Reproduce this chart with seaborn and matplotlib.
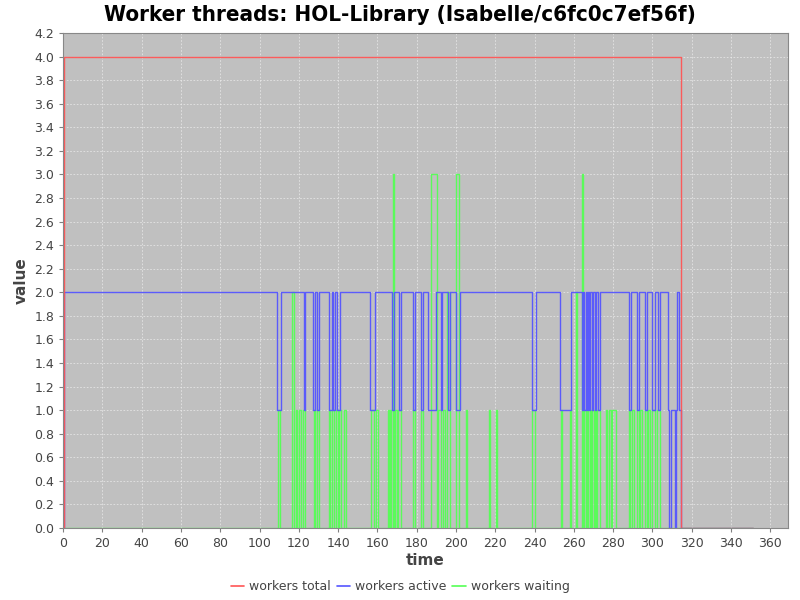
import numpy as np
import pandas as pd
import matplotlib
matplotlib.use("Agg")
import matplotlib.pyplot as plt
import seaborn as sns
from matplotlib.lines import Line2D

# ---- data ----
total_t = [0.0, 0.3, 314.3, 351.3]
total_v = [0, 4, 0, 0]

active_t = [0.0, 0.4, 109.1, 111.0, 122.4, 123.2, 127.1, 128.1, 129.2, 130.2,
            135.1, 136.8, 137.6, 138.3, 139.3, 141.0, 156.3, 158.8,
            167.2, 168.4, 171.0, 172.0, 178.0, 178.9, 182.1, 183.3,
            185.5, 190.0, 192.1, 192.8, 195.7, 197.0, 199.9, 201.8,
            238.6, 240.7, 253.0, 258.5,
            264.1, 264.8, 265.3, 266.0, 266.5, 267.3, 267.8, 268.3,
            269.2, 269.8, 270.7, 271.4, 272.3, 273.1,
            287.8, 288.9, 292.1, 293.3, 296.0, 297.2, 300.0, 301.1,
            302.8, 304.0, 307.9, 308.3, 309.6, 311.3, 311.8, 312.6,
            313.3, 314.3, 351.3]
active_v = [0, 2, 1, 2, 1, 2, 1, 2, 1, 2,
            1, 2, 1, 2, 1, 2, 1, 2,
            1, 2, 1, 2, 1, 2, 1, 2,
            1, 2, 1, 2, 1, 2, 1, 2,
            1, 2, 1, 2,
            1, 2, 1, 2, 1, 2, 1, 2,
            1, 2, 1, 2, 1, 2,
            1, 2, 1, 2, 1, 2, 1, 2,
            1, 2, 1, 0, 1, 0, 1, 2,
            1, 0, 0]

wait_start = [109.3, 116.6, 118.3, 120.3, 121.9, 127.5, 129.2, 135.1, 137.1, 139.0,
              140.5, 143.1, 156.8, 159.4, 165.3, 166.5, 167.7, 169.0, 170.2, 178.1,
              182.3, 187.0, 190.6, 193.3, 195.5, 199.9, 205.0, 216.6, 220.5, 238.8,
              253.4, 258.1, 261.2, 264.1, 265.3, 266.6, 268.0, 269.4, 270.7, 272.0,
              276.5, 277.7, 279.4, 287.8, 289.5, 292.1, 293.8, 296.0, 297.7, 300.0,
              302.3]
wait_end = [110.5, 117.3, 119.0, 121.0, 123.0, 128.3, 130.0, 135.9, 138.1, 140.0,
            141.4, 144.1, 158.0, 160.5, 166.0, 167.0, 168.2, 169.9, 171.9, 178.9,
            183.4, 190.1, 192.3, 194.5, 197.0, 201.3, 205.5, 217.4, 220.8, 240.3,
            253.9, 258.7, 261.7, 264.8, 266.0, 267.2, 268.7, 270.0, 271.4, 273.1,
            277.0, 278.9, 281.6, 288.7, 290.4, 293.3, 294.6, 297.2, 298.5, 301.1,
            304.0]
wait_level = [1, 2, 1, 1, 1, 1, 1, 1, 1, 1,
              1, 1, 1, 1, 1, 1, 3, 1, 1, 1,
              1, 3, 1, 1, 2, 3, 1, 1, 1, 1,
              1, 1, 2, 3, 1, 1, 1, 1, 1, 1,
              1, 1, 1, 1, 1, 1, 1, 1, 1, 1,
              1]

series_names = ["workers total", "workers active", "workers waiting"]
series_colors = ["#ff5555", "#5555ff", "#55ff55"]

# ---- build long table ----
wt = [0.0]
wv = [0]
for s, e, l in zip(wait_start, wait_end, wait_level):
    wt += [s, e]
    wv += [l, 0]
wt.append(351.3)
wv.append(0)

frames = []
for name, t, v in zip(series_names, [total_t, active_t, wt], [total_v, active_v, wv]):
    frames.append(pd.DataFrame({"time": t, "value": v, "series": name}))
df = pd.concat(frames, ignore_index=True)

sns.set_style("whitegrid")
plt.rcParams['font.family'] = ['DejaVu Sans']

fig = plt.figure(figsize=(8, 6), dpi=100)
ax = fig.add_axes([0.079, 0.12, 0.906, 0.825])
ax.set_facecolor("#c0c0c0")

# draw waiting, active, then total on top
for name, col in zip(series_names[::-1], series_colors[::-1]):
    sub = df[df["series"] == name]
    sns.lineplot(data=sub, x="time", y="value", ax=ax, color=col,
                 drawstyle="steps-post", estimator=None, sort=False,
                 linewidth=1.0, alpha=0.95, legend=False)

ax.set_xlim(0, 369)
ax.set_ylim(0, 4.2)
ax.set_xticks(np.arange(0, 361, 20))
ax.set_yticks(np.arange(0, 4.21, 0.2))
ax.set_yticklabels([f"{v:.1f}" for v in np.arange(0, 4.21, 0.2)])
ax.grid(True, color="#eeeeee", linestyle=(0, (2, 2)), linewidth=0.6, alpha=0.8)
ax.tick_params(axis="both", colors="#808080", labelcolor="#444444", labelsize=9,
               length=3, width=0.8, direction="out", left=True, bottom=True)
for sp in ax.spines.values():
    sp.set_color("#888888")
    sp.set_linewidth(0.8)

ax.set_xlabel("time", fontsize=11, fontweight="bold", color="#444444", labelpad=2)
ax.set_ylabel("value", fontsize=11, fontweight="bold", color="#444444", labelpad=4)

fig.suptitle("Worker threads: HOL-Library (Isabelle/c6fc0c7ef56f)", x=0.5, y=0.992,
             fontsize=16, fontweight="bold", fontstretch="condensed", color="black")

handles = [Line2D([0], [0], color=c, linewidth=1.2) for c in series_colors]
fig.legend(handles, series_names, loc="center", bbox_to_anchor=(0.5, 0.022), ncol=3,
           frameon=False, fontsize=9, handlelength=1.1, handletextpad=0.35,
           columnspacing=0.5, labelcolor="#444444")

fig.savefig("out.png", dpi=100)
